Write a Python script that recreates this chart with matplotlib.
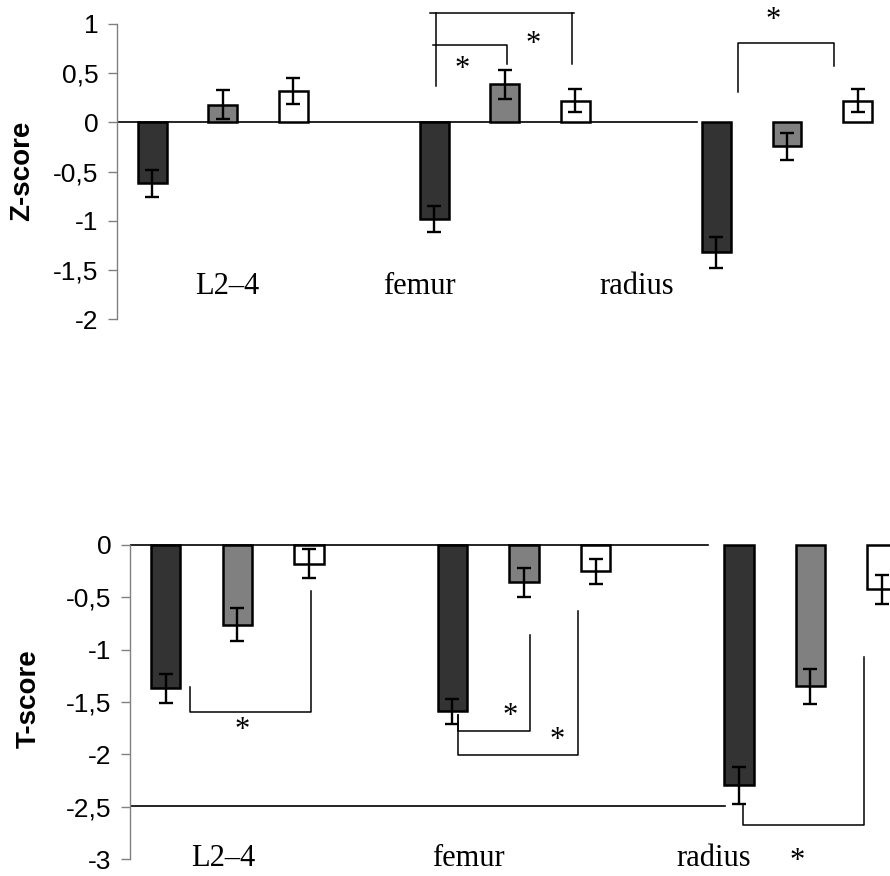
import matplotlib
matplotlib.use('Agg')
import matplotlib.pyplot as plt
import matplotlib.transforms as mtransforms
from matplotlib.ticker import FuncFormatter, MultipleLocator
import numpy as np

# skeletal sites, three patient groups each (dark, grey, white bars)
sites = ['L2–4', 'femur', 'radius']
group_colors = ['#333333', '#808080', '#ffffff']

# Z-score means and error per site (rows) and group (columns)
z_mean = [[-0.62, 0.18, 0.32],
          [-0.98, 0.385, 0.22],
          [-1.32, -0.245, 0.22]]
z_err = [[0.14, 0.15, 0.13],
         [0.13, 0.145, 0.12],
         [0.155, 0.14, 0.12]]

# T-score means and error
t_mean = [[-1.37, -0.76, -0.18],
          [-1.59, -0.355, -0.25],
          [-2.295, -1.35, -0.425]]
t_err = [[0.135, 0.16, 0.14],
         [0.12, 0.14, 0.12],
         [0.175, 0.17, 0.135]]

W, H = 890, 876
fig = plt.figure(figsize=(W / 100, H / 100), dpi=100)

serif = 'Liberation Serif'
sans = 'Liberation Sans'


def komma(v, pos):
    s = '%g' % v
    return s.replace('.', ',')


def panel(ax, mean, err, ylo, yhi, xhi):
    mean = np.array(mean)
    err = np.array(err)
    for i in range(3):
        x = np.arange(3) * 4 + i
        ax.bar(x, mean[:, i], width=0.41, color=group_colors[i],
               edgecolor='black', linewidth=1.8, zorder=3)
        ax.errorbar(x, mean[:, i], yerr=err[:, i], fmt='none', ecolor='black',
                    elinewidth=1.7, capsize=4.7, capthick=1.7, zorder=4)
    ax.set_xlim(-0.5, xhi)
    ax.set_ylim(ylo, yhi)
    for s in ['top', 'right', 'bottom']:
        ax.spines[s].set_visible(False)
    ax.spines['left'].set_color('#808080')
    ax.spines['left'].set_linewidth(1.0)
    ax.set_xticks([])
    ax.yaxis.set_major_locator(MultipleLocator(0.5))
    ax.yaxis.set_major_formatter(FuncFormatter(komma))
    ax.tick_params(axis='y', direction='out', length=6.5, width=1.0,
                   color='#808080', pad=7, labelsize=19)
    for lab in ax.get_yticklabels():
        lab.set_family(sans)
    ax.patch.set_alpha(0)


def bracket(ax, xl, xr, yl, yr, ybar):
    ax.plot([xl, xl, xr, xr], [yl, ybar, ybar, yr], color='black', lw=1.1,
            clip_on=False, zorder=2)


def star(ax, x, y):
    tr = mtransforms.offset_copy(ax.transData, fig=fig, y=-11, units='points')
    ax.text(x, y, '*', transform=tr, ha='center', va='baseline',
            fontsize=22, family=serif)


# --- Z-score panel ---
ax1 = fig.add_axes([117 / W, 1 - 330 / H, 1 - 117 / W, 330 / H])
panel(ax1, z_mean, z_err, -2.109, 1.242, 10.46)
ax1.spines['left'].set_bounds(-2, 1)
ax1.set_yticks(np.arange(-2, 1.01, 0.5))
ax1.plot([-0.5, 7.72], [0, 0], color='black', lw=1.2, zorder=2)

for x, s in zip([1.07, 3.79, 6.87], sites):
    ax1.text(x, -1.74, s, ha='center', va='baseline', fontsize=22, family=serif)

ax1.plot([3.936, 5.98], [1.107, 1.107], color='black', lw=1.1, clip_on=False)
ax1.plot([4.017, 4.017], [1.107, 0.369], color='black', lw=1.1, clip_on=False)
ax1.plot([5.95, 5.95], [1.107, 0.589], color='black', lw=1.1, clip_on=False)
ax1.plot([3.98, 5.03, 5.03], [0.79, 0.79, 0.59], color='black', lw=1.1, clip_on=False)
bracket(ax1, 8.30, 9.67, 0.305, 0.569, 0.81)
star(ax1, 5.40, 0.87)
star(ax1, 4.39, 0.62)
star(ax1, 8.80, 1.11)

fig.text(22 / W, 1 - 171 / H, 'Z-score', rotation=90, ha='center', va='center',
         fontsize=20, fontweight='bold', family=sans)

# --- T-score panel ---
ax2 = fig.add_axes([130 / W, 0, 1 - 130 / W, 356 / H])
panel(ax2, t_mean, t_err, -3.162, 0.2388, 10.11)
ax2.spines['left'].set_bounds(-3, 0)
ax2.set_yticks(np.arange(-3, 0.01, 0.5))
ax2.plot([-0.5, 7.57], [0, 0], color='black', lw=1.2, zorder=2)
ax2.plot([-0.5, 7.81], [-2.49, -2.49], color='black', lw=1.2, zorder=2)

for x, s in zip([0.80, 4.22, 7.65], sites):
    ax2.text(x, -3.07, s, ha='center', va='baseline', fontsize=22, family=serif)

bracket(ax2, 0.34, 2.02, -1.353, -0.439, -1.592)
bracket(ax2, 4.075, 5.085, -1.624, -0.86, -1.777)
bracket(ax2, 4.075, 5.76, -1.624, -0.627, -2.01)
bracket(ax2, 8.06, 9.746, -2.47, -1.067, -2.675)
star(ax2, 1.06, -1.70)
star(ax2, 4.805, -1.56)
star(ax2, 5.47, -1.79)
star(ax2, 8.82, -2.945)

fig.text(29 / W, 1 - 699 / H, 'T-score', rotation=90, ha='center', va='center',
         fontsize=20, fontweight='bold', family=sans)

fig.savefig('out.png', dpi=100)
